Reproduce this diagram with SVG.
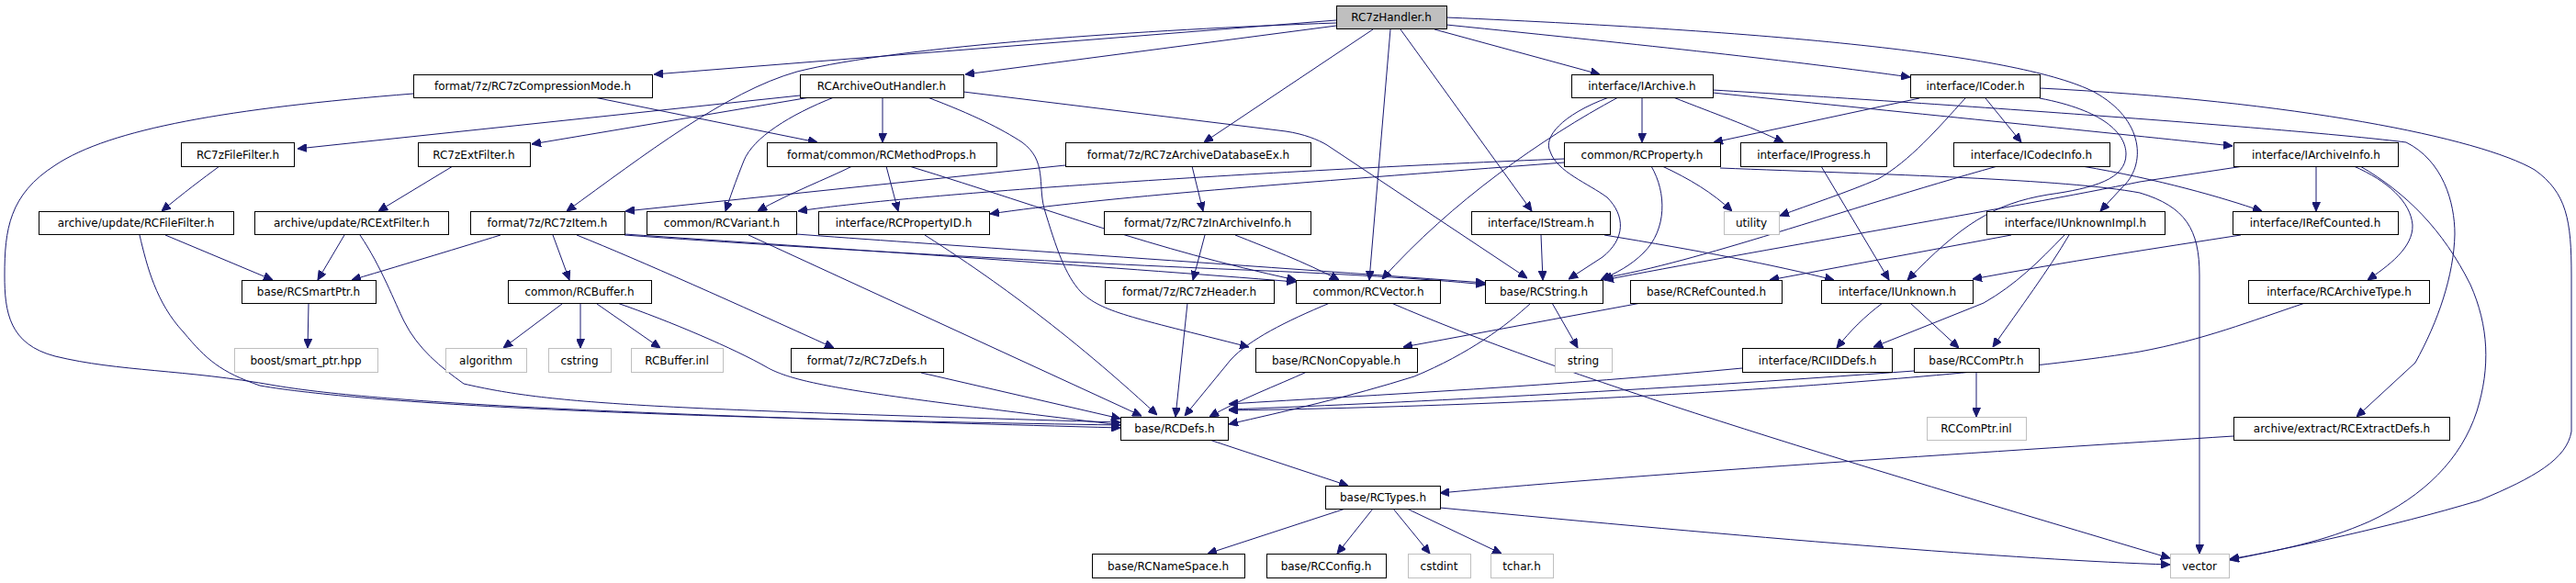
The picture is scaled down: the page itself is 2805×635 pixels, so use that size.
<svg xmlns="http://www.w3.org/2000/svg" width="2805" height="635" viewBox="0 0 2805 635">
<style>
rect{fill:#fff;stroke:#000;stroke-width:1}
.ext rect{stroke:#bfbfbf}
.root rect{fill:#bfbfbf}
text{font-family:"DejaVu Sans","Liberation Sans",sans-serif;font-size:12px;text-anchor:middle;fill:#000}
#edges path{fill:none;stroke:#191970;stroke-width:1;marker-end:url(#a)}
</style>
<defs>
<marker id="a" viewBox="0 0 10 9" refX="10" refY="4.5" markerWidth="10" markerHeight="9" markerUnits="userSpaceOnUse" orient="auto">
<path d="M0,0 L10,4.5 L0,9 z" fill="#191970" stroke="#191970"/>
</marker>
</defs>
<rect x="0" y="0" width="2805" height="635" style="stroke:none;fill:#fff"/>
<g id="edges">
<path d="M1455,22 L712,81"/>
<path d="M1455,28 L1051,81"/>
<path d="M1455,25 C1250,32 980,50 868,78 C790,100 700,170 617,230"/>
<path d="M1495,32 L1311,155"/>
<path d="M1514,32 L1491,305"/>
<path d="M1525,32 L1668,230"/>
<path d="M1562,32 L1742,81"/>
<path d="M1575,27 C1800,50 1950,66 2080,84"/>
<path d="M1575,19 C1950,35 2200,60 2280,100 C2335,130 2338,180 2310,205 L2287,230"/>
<path d="M647,106 L890,155"/>
<path d="M450,102 C250,118 120,140 60,180 C10,212 5,250 5,300 C5,340 10,375 60,388 C130,405 200,402 300,420 C420,440 700,452 1220,466"/>
<path d="M871,104 L324,162"/>
<path d="M882,106 L579,157"/>
<path d="M961,106 L961,155"/>
<path d="M908,106 C860,125 820,150 810,175 C800,200 795,215 790,230"/>
<path d="M1049,100 L1400,143 C1420,146 1435,152 1445,158 L1663,303"/>
<path d="M1010,106 C1060,125 1090,140 1113,155 C1140,175 1130,200 1137,227 C1150,270 1160,300 1177,318 C1200,340 1230,345 1360,378"/>
<path d="M239,181 C220,195 200,210 176,230"/>
<path d="M493,181 L412,230"/>
<path d="M180,256 L297,305"/>
<path d="M152,256 C160,290 170,330 200,362 C225,392 240,405 283,420 C400,440 700,455 1220,463"/>
<path d="M375,256 L346,305"/>
<path d="M392,256 C415,290 430,330 440,350 C455,380 480,400 505,418 C600,440 700,445 1220,460"/>
<path d="M545,256 C500,270 450,285 383,305"/>
<path d="M602,256 L620,305"/>
<path d="M628,256 C700,285 800,330 908,379"/>
<path d="M680,255 C900,270 1200,290 1411,307"/>
<path d="M680,256 C900,272 1200,288 1380,295 C1450,298 1550,303 1617,310"/>
<path d="M867,255 C1000,265 1300,285 1617,308"/>
<path d="M815,256 L1243,453"/>
<path d="M928,181 C900,195 860,210 825,230"/>
<path d="M965,181 L978,230"/>
<path d="M990,181 C1150,230 1250,270 1411,305"/>
<path d="M1007,256 C1060,290 1150,350 1260,452"/>
<path d="M1298,181 L1310,230"/>
<path d="M1160,180 L681,230"/>
<path d="M1312,256 L1299,305"/>
<path d="M1345,256 C1380,270 1420,285 1458,305"/>
<path d="M1293,330 L1280,454"/>
<path d="M1703,173 C1400,185 1000,210 869,230"/>
<path d="M1703,177 C1400,200 1200,215 1078,233"/>
<path d="M1798,181 C1815,210 1815,250 1790,275 C1775,290 1760,297 1743,305"/>
<path d="M1810,181 C1840,195 1865,210 1886,230"/>
<path d="M1873,183 C2050,190 2250,195 2330,210 C2380,225 2395,250 2395,300 L2395,603"/>
<path d="M1788,106 L1788,155"/>
<path d="M1822,106 C1870,125 1900,135 1942,155"/>
<path d="M1762,106 C1680,150 1580,220 1505,304"/>
<path d="M1752,106 C1700,125 1680,150 1688,165 C1695,187 1730,200 1750,215 C1770,235 1770,260 1745,280 L1708,304"/>
<path d="M1865,101 C2100,125 2300,145 2431,159"/>
<path d="M1865,98 C2100,112 2500,140 2620,155 C2660,175 2673,220 2673,255 C2672,300 2655,350 2630,395 L2566,454"/>
<path d="M2090,107 L1866,155"/>
<path d="M2140,107 C2110,140 2080,175 2045,195 C2010,210 1970,223 1938,235"/>
<path d="M2162,107 L2201,155"/>
<path d="M2221,107 C2290,120 2315,145 2315,168 C2315,195 2280,205 2230,212 C2170,222 2135,245 2077,305"/>
<path d="M2221,96 C2500,110 2700,150 2760,185 C2795,210 2800,240 2800,300 L2800,470 C2795,500 2760,520 2700,545 C2600,575 2500,595 2428,610"/>
<path d="M2267,181 C2350,195 2420,215 2463,230"/>
<path d="M2175,181 C2000,230 1850,285 1745,303"/>
<path d="M2443,181 L2330,198 C2200,225 1900,275 1747,305"/>
<path d="M2522,181 L2522,230"/>
<path d="M2563,181 C2600,197 2625,220 2627,245 C2628,270 2600,290 2578,305"/>
<path d="M2570,181 C2620,210 2660,250 2690,310 C2710,355 2712,400 2697,448 C2680,500 2640,540 2580,568 C2530,590 2480,600 2428,609"/>
<path d="M1678,256 L1680,305"/>
<path d="M1747,256 C1850,273 1930,288 1997,305"/>
<path d="M1983,181 L2057,305"/>
<path d="M2190,256 L1927,305"/>
<path d="M2248,256 C2220,285 2195,310 2160,330 L2040,378"/>
<path d="M2253,256 C2230,295 2200,335 2170,378"/>
<path d="M2440,256 C2350,270 2250,285 2148,304"/>
<path d="M2050,330 C2030,345 2015,360 2000,379"/>
<path d="M2080,330 L2133,379"/>
<path d="M2152,405 L2152,454"/>
<path d="M1897,401 C1700,420 1500,430 1338,440"/>
<path d="M2084,404 C1800,425 1500,440 1338,446"/>
<path d="M2510,330 C2450,350 2400,370 2330,383 C2200,405 1800,440 1338,447"/>
<path d="M1787,330 L1528,378"/>
<path d="M1448,330 C1400,350 1360,370 1340,392 L1290,453"/>
<path d="M1515,330 C1700,410 2000,500 2363,608"/>
<path d="M1690,330 L1718,379"/>
<path d="M1667,330 C1640,355 1600,385 1540,410 C1470,432 1400,448 1338,462"/>
<path d="M1423,405 C1390,420 1350,435 1317,454"/>
<path d="M1003,406 L1220,456"/>
<path d="M672,330 C730,350 800,380 835,400 C870,420 950,430 1220,463"/>
<path d="M612,331 L548,379"/>
<path d="M632,331 L632,379"/>
<path d="M650,331 L719,379"/>
<path d="M336,331 L335,379"/>
<path d="M1317,479 L1468,529"/>
<path d="M1465,554 L1315,603"/>
<path d="M1495,554 L1456,603"/>
<path d="M1517,554 L1557,603"/>
<path d="M1532,554 L1635,603"/>
<path d="M1568,553 C1900,585 2200,610 2363,615"/>
<path d="M2432,475 C2200,490 1800,515 1568,537"/>
</g>
<g id="n0" class="root"><rect x="1455.5" y="6.5" width="120" height="25"/><text x="1515" y="23">RC7zHandler.h</text></g>
<g id="n1"><rect x="450.5" y="81.5" width="260" height="25"/><text x="580" y="98">format/7z/RC7zCompressionMode.h</text></g>
<g id="n2"><rect x="871.5" y="81.5" width="178" height="25"/><text x="960" y="98">RCArchiveOutHandler.h</text></g>
<g id="n3"><rect x="1711.5" y="81.5" width="154" height="25"/><text x="1788" y="98">interface/IArchive.h</text></g>
<g id="n4"><rect x="2080.5" y="81.5" width="141" height="25"/><text x="2151" y="98">interface/ICoder.h</text></g>
<g id="n5"><rect x="197.5" y="155.5" width="123" height="26"/><text x="259" y="173">RC7zFileFilter.h</text></g>
<g id="n6"><rect x="455.5" y="155.5" width="122" height="26"/><text x="516" y="173">RC7zExtFilter.h</text></g>
<g id="n7"><rect x="835.5" y="155.5" width="250" height="26"/><text x="960" y="173">format/common/RCMethodProps.h</text></g>
<g id="n8"><rect x="1160.5" y="155.5" width="267" height="26"/><text x="1294" y="173">format/7z/RC7zArchiveDatabaseEx.h</text></g>
<g id="n9"><rect x="1703.5" y="155.5" width="170" height="26"/><text x="1788" y="173">common/RCProperty.h</text></g>
<g id="n10"><rect x="1895.5" y="155.5" width="159" height="26"/><text x="1975" y="173">interface/IProgress.h</text></g>
<g id="n11"><rect x="2127.5" y="155.5" width="170" height="26"/><text x="2212" y="173">interface/ICodecInfo.h</text></g>
<g id="n12"><rect x="2432.5" y="155.5" width="179" height="26"/><text x="2522" y="173">interface/IArchiveInfo.h</text></g>
<g id="n13"><rect x="42.5" y="230.5" width="212" height="25"/><text x="148" y="247">archive/update/RCFileFilter.h</text></g>
<g id="n14"><rect x="277.5" y="230.5" width="211" height="25"/><text x="383" y="247">archive/update/RCExtFilter.h</text></g>
<g id="n15"><rect x="512.5" y="230.5" width="168" height="25"/><text x="596" y="247">format/7z/RC7zItem.h</text></g>
<g id="n16"><rect x="704.5" y="230.5" width="163" height="25"/><text x="786" y="247">common/RCVariant.h</text></g>
<g id="n17"><rect x="891.5" y="230.5" width="186" height="25"/><text x="984" y="247">interface/RCPropertyID.h</text></g>
<g id="n18"><rect x="1202.5" y="230.5" width="225" height="25"/><text x="1315" y="247">format/7z/RC7zInArchiveInfo.h</text></g>
<g id="n19"><rect x="1602.5" y="230.5" width="151" height="25"/><text x="1678" y="247">interface/IStream.h</text></g>
<g id="n20" class="ext"><rect x="1877.5" y="230.5" width="60" height="25"/><text x="1907" y="247">utility</text></g>
<g id="n21"><rect x="2163.5" y="230.5" width="194" height="25"/><text x="2260" y="247">interface/IUnknownImpl.h</text></g>
<g id="n22"><rect x="2431.5" y="230.5" width="180" height="25"/><text x="2521" y="247">interface/IRefCounted.h</text></g>
<g id="n23"><rect x="263.5" y="305.5" width="146" height="25"/><text x="336" y="322">base/RCSmartPtr.h</text></g>
<g id="n24"><rect x="553.5" y="305.5" width="156" height="25"/><text x="631" y="322">common/RCBuffer.h</text></g>
<g id="n25"><rect x="1203.5" y="305.5" width="184" height="25"/><text x="1295" y="322">format/7z/RC7zHeader.h</text></g>
<g id="n26"><rect x="1411.5" y="305.5" width="157" height="25"/><text x="1490" y="322">common/RCVector.h</text></g>
<g id="n27"><rect x="1617.5" y="305.5" width="128" height="25"/><text x="1681" y="322">base/RCString.h</text></g>
<g id="n28"><rect x="1775.5" y="305.5" width="165" height="25"/><text x="1858" y="322">base/RCRefCounted.h</text></g>
<g id="n29"><rect x="1983.5" y="305.5" width="165" height="25"/><text x="2066" y="322">interface/IUnknown.h</text></g>
<g id="n30"><rect x="2448.5" y="305.5" width="197" height="25"/><text x="2547" y="322">interface/RCArchiveType.h</text></g>
<g id="n31" class="ext"><rect x="255.5" y="379.5" width="156" height="26"/><text x="333" y="397">boost/smart_ptr.hpp</text></g>
<g id="n32" class="ext"><rect x="485.5" y="379.5" width="88" height="26"/><text x="529" y="397">algorithm</text></g>
<g id="n33" class="ext"><rect x="597.5" y="379.5" width="68" height="26"/><text x="631" y="397">cstring</text></g>
<g id="n34" class="ext"><rect x="687.5" y="379.5" width="100" height="26"/><text x="737" y="397">RCBuffer.inl</text></g>
<g id="n35"><rect x="861.5" y="379.5" width="166" height="26"/><text x="944" y="397">format/7z/RC7zDefs.h</text></g>
<g id="n36"><rect x="1367.5" y="379.5" width="176" height="26"/><text x="1455" y="397">base/RCNonCopyable.h</text></g>
<g id="n37" class="ext"><rect x="1693.5" y="379.5" width="62" height="26"/><text x="1724" y="397">string</text></g>
<g id="n38"><rect x="1897.5" y="379.5" width="163" height="26"/><text x="1979" y="397">interface/RCIIDDefs.h</text></g>
<g id="n39"><rect x="2084.5" y="379.5" width="136" height="26"/><text x="2152" y="397">base/RCComPtr.h</text></g>
<g id="n40"><rect x="1220.5" y="454.5" width="117" height="25"/><text x="1279" y="471">base/RCDefs.h</text></g>
<g id="n41" class="ext"><rect x="2098.5" y="454.5" width="108" height="25"/><text x="2152" y="471">RCComPtr.inl</text></g>
<g id="n42"><rect x="2432.5" y="454.5" width="235" height="25"/><text x="2550" y="471">archive/extract/RCExtractDefs.h</text></g>
<g id="n43"><rect x="1443.5" y="529.5" width="125" height="25"/><text x="1506" y="546">base/RCTypes.h</text></g>
<g id="n44"><rect x="1189.5" y="603.5" width="166" height="26"/><text x="1272" y="621">base/RCNameSpace.h</text></g>
<g id="n45"><rect x="1379.5" y="603.5" width="130" height="26"/><text x="1444" y="621">base/RCConfig.h</text></g>
<g id="n46" class="ext"><rect x="1533.5" y="603.5" width="68" height="26"/><text x="1567" y="621">cstdint</text></g>
<g id="n47" class="ext"><rect x="1623.5" y="603.5" width="68" height="26"/><text x="1657" y="621">tchar.h</text></g>
<g id="n48" class="ext"><rect x="2363.5" y="603.5" width="64" height="26"/><text x="2395" y="621">vector</text></g>
</svg>
